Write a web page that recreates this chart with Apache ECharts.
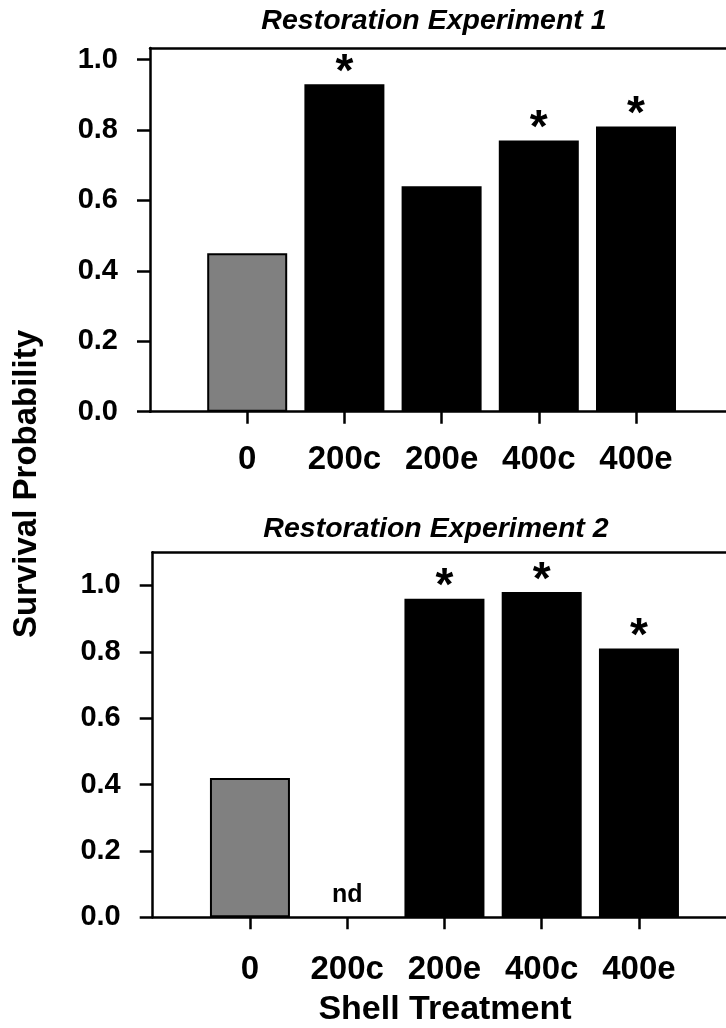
<!DOCTYPE html>
<html>
<head>
<meta charset="utf-8">
<title>Survival Probability by Shell Treatment</title>
<script src="https://cdn.jsdelivr.net/npm/echarts@6/dist/echarts.min.js"></script>
<style>
  html, body { margin: 0; padding: 0; background: #fff; }
  #chart { width: 726px; height: 1028px; }
</style>
</head>
<body>
<div id="chart"></div>
<script>
// Shell treatments along the x axis
const categories = ['0', '200c', '200e', '400c', '400e'];

// Survival probability per treatment, experiment 1 and 2 (null = not determined)
const exp1Survival = [0.45, 0.93, 0.64, 0.77, 0.81];
const exp2Survival = [0.42, null, 0.96, 0.98, 0.81];

// Treatments marked as significantly different from the control
const exp1Significant = [false, true, false, true, true];
const exp2Significant = [false, false, true, true, true];

// Y tick labels
const yTicks = [0, 0.2, 0.4, 0.6, 0.8, 1.0];

const panelTitles = ['Restoration Experiment 1', 'Restoration Experiment 2'];
const FONT = '"Liberation Sans", Arial, Helvetica, sans-serif';
const CONTROL_COLOR = '#808080';
const TREATMENT_COLOR = '#000000';
const LINE_W = 2.5;
const tickPositions = categories.map((c, i) => i);

const chart = echarts.init(document.getElementById('chart'), null, { renderer: 'canvas' });

function barData(values, significant) {
  const out = [];
  values.forEach((v, i) => {
    if (v === null) return;
    out.push({
      value: [i, v],
      itemStyle: { color: i === 0 ? CONTROL_COLOR : TREATMENT_COLOR },
      label: { show: significant[i] }
    });
  });
  return out;
}

function notDetermined(values) {
  const out = [];
  values.forEach((v, i) => { if (v === null) out.push([i, 0]); });
  return out;
}

// Each panel's plot area runs one slot left of the first treatment and
// continues past the right edge of the page.
const grids = [
  { left: 150, right: -7.2, top: 48, bottom: 616.3 },
  { left: 152.7, right: -10.2, top: 552.3, bottom: 110.7 }
];
const yMax = [1.033, 1.1];
const xLabelMargin = [32, 36];

function xAxisFor(gi) {
  return {
    type: 'value', gridIndex: gi, min: -1, max: 5,
    splitLine: { show: false },
    axisLine: { show: true, onZero: false, lineStyle: { color: '#000', width: LINE_W } },
    axisTick: { show: true, length: 12, customValues: tickPositions, lineStyle: { color: '#000', width: LINE_W } },
    axisLabel: {
      show: true, customValues: tickPositions, margin: xLabelMargin[gi],
      formatter: v => categories[Math.round(v)],
      color: '#000', fontFamily: FONT, fontWeight: 'bold', fontSize: 33
    }
  };
}
// Plain line closing the top of each panel
function topLineFor(gi) {
  return {
    type: 'value', gridIndex: gi, position: 'top', min: -1, max: 5,
    splitLine: { show: false },
    axisLine: { show: true, onZero: false, lineStyle: { color: '#000', width: LINE_W } },
    axisTick: { show: false },
    axisLabel: { show: false }
  };
}
function yAxisFor(gi) {
  return {
    type: 'value', gridIndex: gi, min: 0, max: yMax[gi],
    splitLine: { show: false },
    axisLine: { show: true, onZero: false, lineStyle: { color: '#000', width: LINE_W } },
    axisTick: { show: true, length: 13, customValues: yTicks, lineStyle: { color: '#000', width: LINE_W } },
    axisLabel: {
      show: true, customValues: yTicks, margin: 32,
      formatter: v => v.toFixed(1),
      color: '#000', fontFamily: FONT, fontWeight: 'bold', fontSize: 29
    }
  };
}

const starLabel = {
  position: 'top', distance: -12, formatter: '*',
  color: '#000', fontFamily: FONT, fontWeight: 'bold', fontSize: 46
};

const option = {
  animation: false,
  backgroundColor: '#fff',
  grid: grids.map(g => Object.assign({ show: false, outerBoundsMode: 'none', containLabel: false }, g)),
  xAxis: [xAxisFor(0), xAxisFor(1), topLineFor(0), topLineFor(1)],
  yAxis: [yAxisFor(0), yAxisFor(1)],
  series: [
    {
      type: 'bar', xAxisIndex: 0, yAxisIndex: 0, barWidth: 80,
      itemStyle: { borderColor: '#000', borderWidth: 2 },
      label: starLabel,
      data: barData(exp1Survival, exp1Significant)
    },
    {
      type: 'bar', xAxisIndex: 1, yAxisIndex: 1, barWidth: 80,
      itemStyle: { borderColor: '#000', borderWidth: 2 },
      label: starLabel,
      data: barData(exp2Survival, exp2Significant)
    },
    {
      type: 'scatter', xAxisIndex: 1, yAxisIndex: 1, symbolSize: 0,
      itemStyle: { opacity: 1 },
      label: {
        show: true, position: 'top', distance: 10, formatter: 'nd',
        color: '#000', fontFamily: FONT, fontWeight: 'bold', fontSize: 25
      },
      data: notDetermined(exp2Survival)
    }
  ],
  graphic: [
    {
      type: 'text', x: 434, y: 21,
      style: { text: panelTitles[0], textAlign: 'center', textVerticalAlign: 'middle',
               fill: '#000', font: 'italic bold 28.5px ' + FONT }
    },
    {
      type: 'text', x: 436, y: 529,
      style: { text: panelTitles[1], textAlign: 'center', textVerticalAlign: 'middle',
               fill: '#000', font: 'italic bold 28.5px ' + FONT }
    },
    {
      type: 'text', x: 27, y: 484, rotation: Math.PI / 2,
      style: { text: 'Survival Probability', textAlign: 'center', textVerticalAlign: 'middle',
               fill: '#000', font: 'bold 33px ' + FONT }
    },
    {
      type: 'text', x: 445, y: 1010,
      style: { text: 'Shell Treatment', textAlign: 'center', textVerticalAlign: 'middle',
               fill: '#000', font: 'bold 34px ' + FONT }
    }
  ]
};

chart.setOption(option);
</script>
</body>
</html>
